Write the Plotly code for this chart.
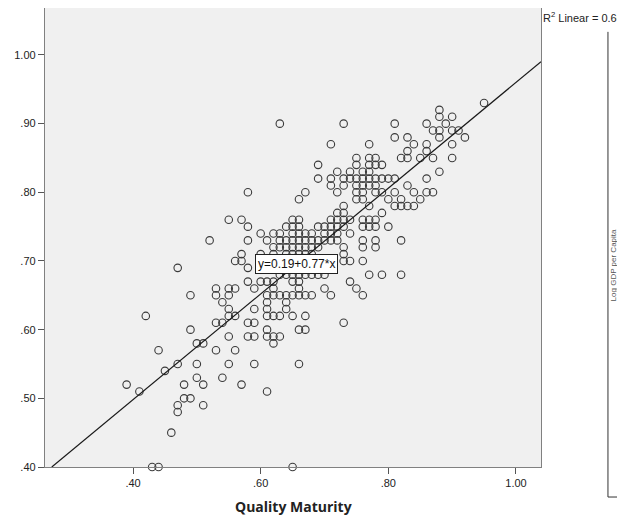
import plotly.graph_objects as go

# ---- data ----
row_y = [0.93, 0.92, 0.91, 0.90, 0.89, 0.88, 0.87, 0.86, 0.85, 0.84, 0.83, 0.82,
         0.81, 0.80, 0.79, 0.78, 0.77, 0.76, 0.75, 0.74, 0.73, 0.72, 0.71, 0.70,
         0.69, 0.68, 0.67, 0.66, 0.65, 0.64, 0.63, 0.62, 0.61, 0.60, 0.59, 0.58,
         0.57, 0.55, 0.54, 0.53, 0.52, 0.51, 0.50, 0.49, 0.48, 0.45, 0.40]
row_x = [
    [0.95],
    [0.88],
    [0.88, 0.90],
    [0.63, 0.73, 0.81, 0.86, 0.89],
    [0.87, 0.88, 0.90, 0.91],
    [0.81, 0.83, 0.88, 0.92],
    [0.71, 0.77, 0.84, 0.86, 0.90],
    [0.83, 0.86],
    [0.75, 0.77, 0.78, 0.82, 0.83, 0.85, 0.87, 0.90],
    [0.69, 0.75, 0.77, 0.78, 0.79],
    [0.72, 0.74, 0.76, 0.77, 0.88],
    [0.69, 0.71, 0.73, 0.74, 0.75, 0.76, 0.77, 0.78, 0.79, 0.80, 0.81, 0.86],
    [0.71, 0.73, 0.75, 0.76, 0.77, 0.78, 0.83],
    [0.58, 0.67, 0.72, 0.75, 0.76, 0.78, 0.79, 0.81, 0.84, 0.86, 0.87],
    [0.66, 0.75, 0.76, 0.80, 0.82, 0.85],
    [0.73, 0.77, 0.81, 0.82, 0.83, 0.84],
    [0.72, 0.73, 0.79],
    [0.55, 0.57, 0.65, 0.66, 0.71, 0.72, 0.73, 0.74, 0.76, 0.77, 0.78],
    [0.58, 0.64, 0.65, 0.66, 0.69, 0.70, 0.71, 0.72, 0.73, 0.76, 0.77, 0.78, 0.80],
    [0.60, 0.62, 0.63, 0.65, 0.66, 0.67, 0.68, 0.70, 0.71, 0.72, 0.74],
    [0.52, 0.58, 0.61, 0.63, 0.64, 0.65, 0.66, 0.67, 0.68, 0.69, 0.70, 0.71, 0.72, 0.76, 0.78, 0.82],
    [0.62, 0.63, 0.64, 0.65, 0.66, 0.67, 0.68, 0.69, 0.73, 0.76, 0.78],
    [0.57, 0.60, 0.62, 0.64, 0.65, 0.66, 0.67, 0.68, 0.73],
    [0.56, 0.57, 0.60, 0.63, 0.66, 0.69, 0.73, 0.74, 0.76],
    [0.47, 0.58, 0.62, 0.65],
    [0.63, 0.64, 0.65, 0.66, 0.67, 0.68, 0.69, 0.70, 0.77, 0.79, 0.82],
    [0.58, 0.60, 0.61, 0.62, 0.65, 0.66, 0.74],
    [0.53, 0.55, 0.56, 0.59, 0.62, 0.66, 0.70, 0.75],
    [0.49, 0.53, 0.55, 0.61, 0.62, 0.63, 0.64, 0.65, 0.66, 0.67, 0.68, 0.71, 0.76],
    [0.54, 0.61, 0.64],
    [0.55, 0.59, 0.61, 0.64],
    [0.42, 0.55, 0.56, 0.61, 0.62, 0.63, 0.65, 0.67],
    [0.53, 0.54, 0.58, 0.59, 0.73],
    [0.49, 0.61, 0.66, 0.67],
    [0.55, 0.58, 0.59, 0.61, 0.62, 0.63],
    [0.50, 0.51, 0.62],
    [0.44, 0.53, 0.56],
    [0.47, 0.50, 0.55, 0.59, 0.66],
    [0.45],
    [0.50, 0.54],
    [0.39, 0.48, 0.51, 0.57],
    [0.41, 0.61],
    [0.48, 0.49],
    [0.47, 0.51],
    [0.47],
    [0.46],
    [0.43, 0.44, 0.65],
]

fit_intercept = 0.19
fit_slope = 0.77
r2_linear = 0.664

x_ticks = [0.40, 0.60, 0.80, 1.00]
x_ticktext = [".40", ".60", ".80", "1.00"]
y_ticks = [0.40, 0.50, 0.60, 0.70, 0.80, 0.90, 1.00]
y_ticktext = [".40", ".50", ".60", ".70", ".80", ".90", "1.00"]

x_title = "Quality Maturity"
side_title = "Log GDP per Capita"

# ---- build ----
quality_maturity = [x for xs in row_x for x in xs]
log_gdp = [y for y, xs in zip(row_y, row_x) for _ in xs]

x_range = [0.2621, 1.0392]
y_range = [0.40, 1.0684]

fig = go.Figure()

fig.add_trace(go.Scatter(
    x=quality_maturity, y=log_gdp, mode="markers",
    marker=dict(symbol="circle-open", size=7.5, color="#3a3a3a",
                line=dict(width=1.1, color="#3a3a3a")),
    cliponaxis=False, showlegend=False, hoverinfo="x+y",
))

# fitted line across visible range
x0 = (y_range[0] - fit_intercept) / fit_slope
x1 = x_range[1]
fig.add_trace(go.Scatter(
    x=[x0, x1], y=[fit_intercept + fit_slope * x0, fit_intercept + fit_slope * x1],
    mode="lines", line=dict(color="#1a1a1a", width=1.2),
    showlegend=False, hoverinfo="skip",
))

font_family = "Liberation Sans, Arial, sans-serif"

# page body adds an 8px offset, so the figure is 8px smaller and shifted
fig.update_layout(
    width=617, height=507,
    margin=dict(l=37, r=84, t=0, b=48),
    paper_bgcolor="white",
    plot_bgcolor="#f0f0f0",
    font=dict(family=font_family, size=11, color="#222222"),
    xaxis=dict(range=x_range, tickvals=x_ticks, ticktext=x_ticktext,
               showgrid=False, zeroline=False, showline=True, mirror=True,
               linecolor="#808080", linewidth=1.3, ticks="outside", ticklen=6,
               tickcolor="#555555", tickfont=dict(size=11, color="#222222")),
    yaxis=dict(range=y_range, tickvals=y_ticks, ticktext=y_ticktext,
               showgrid=False, zeroline=False, showline=True, mirror=True,
               linecolor="#808080", linewidth=1.3, ticks="outside", ticklen=6,
               tickcolor="#555555", tickfont=dict(size=11, color="#222222")),
)

fig.add_annotation(
    x=0.6554, y=0.6949, xref="x", yref="y",
    text="y=%.2f+%.2f*x" % (fit_intercept, fit_slope),
    showarrow=False, bgcolor="white", bordercolor="#222222", borderwidth=1,
    borderpad=2, font=dict(size=12, color="#111111", family=font_family),
)

fig.add_annotation(
    x=0.5, y=-0.087, xref="paper", yref="paper",
    text="<b>%s</b>" % x_title, showarrow=False, yanchor="middle",
    font=dict(size=14, color="#222222", family="Open Sans, Liberation Sans, sans-serif"),
)

fig.add_annotation(
    x=1.0, y=0.98, xref="paper", yref="paper", xanchor="left", yanchor="middle",
    text="R<sup>2</sup> Linear = %.3f" % r2_linear, showarrow=False,
    font=dict(size=11, color="#222222", family=font_family),
)

# fragment of neighbouring panel
fig.add_shape(type="line", xref="paper", yref="paper",
              x0=1.135, x1=1.135, y0=0.948, y1=-0.0654,
              line=dict(color="#333333", width=1))
fig.add_shape(type="line", xref="paper", yref="paper",
              x0=1.135, x1=1.20, y0=-0.0654, y1=-0.0654,
              line=dict(color="#333333", width=1))
fig.add_annotation(
    x=1.159, y=0.44, xref="paper", yref="paper", textangle=-90,
    text=side_title, showarrow=False,
    font=dict(size=8, color="#555555", family=font_family),
)

fig.write_html("out.html")
